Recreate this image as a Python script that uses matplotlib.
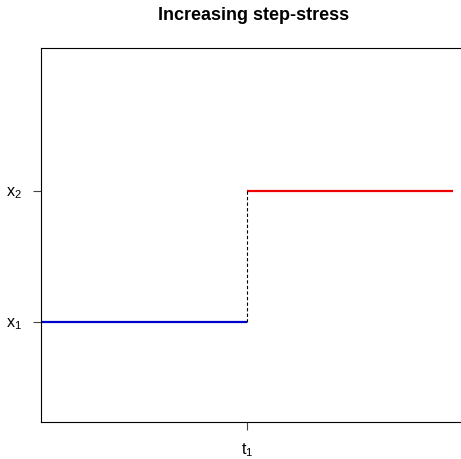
import matplotlib
matplotlib.use("Agg")
import matplotlib.pyplot as plt

plt.rcParams['font.family'] = ['Liberation Sans', 'DejaVu Sans']
plt.rcParams['mathtext.default'] = 'regular'

# step-stress profile
change_times = [0, 1, 2]      # start, t1, end
stress_levels = [1, 2]        # x1, x2
level_colors = ['#0000CC', '#EE0000']
x_tick_labels = ['$t_1$']
y_tick_labels = ['$x_1$', '$x_2$']

W, H = 461, 459
fig = plt.figure(figsize=(W / 100, H / 100), dpi=100)
ax = fig.add_axes([41 / W, (H - 422) / H, 420 / W, 374 / H])

# each stress level held between successive change times
for i, lvl in enumerate(stress_levels):
    ax.plot([change_times[i], change_times[i + 1]], [lvl, lvl],
            color=level_colors[i], linewidth=1.6, solid_capstyle='butt')

# dashed jump at t1
ax.plot([change_times[1], change_times[1]], [stress_levels[0], stress_levels[1]],
        color='black', linestyle=(0, (3, 2)), linewidth=0.8)

ax.set_xlim(0, 420 / 206)
ax.set_ylim(1 - 100 / 131, 2 + 143 / 131)

ax.set_xticks(change_times[1:2])
ax.set_xticklabels(x_tick_labels, fontsize=11.5)
ax.set_yticks(stress_levels)
ax.set_yticklabels(y_tick_labels, fontsize=11.5)
ax.tick_params(length=5.8, width=0.8, color='#444444', pad=8)

ax.spines['right'].set_visible(False)
for s in ['left', 'top', 'bottom']:
    ax.spines[s].set_linewidth(0.8)

fig.text(254 / W, 1 - 15 / H, 'Increasing step-stress', ha='center', va='center',
         fontsize=13, fontweight='bold')

fig.savefig('out.png', dpi=100)
